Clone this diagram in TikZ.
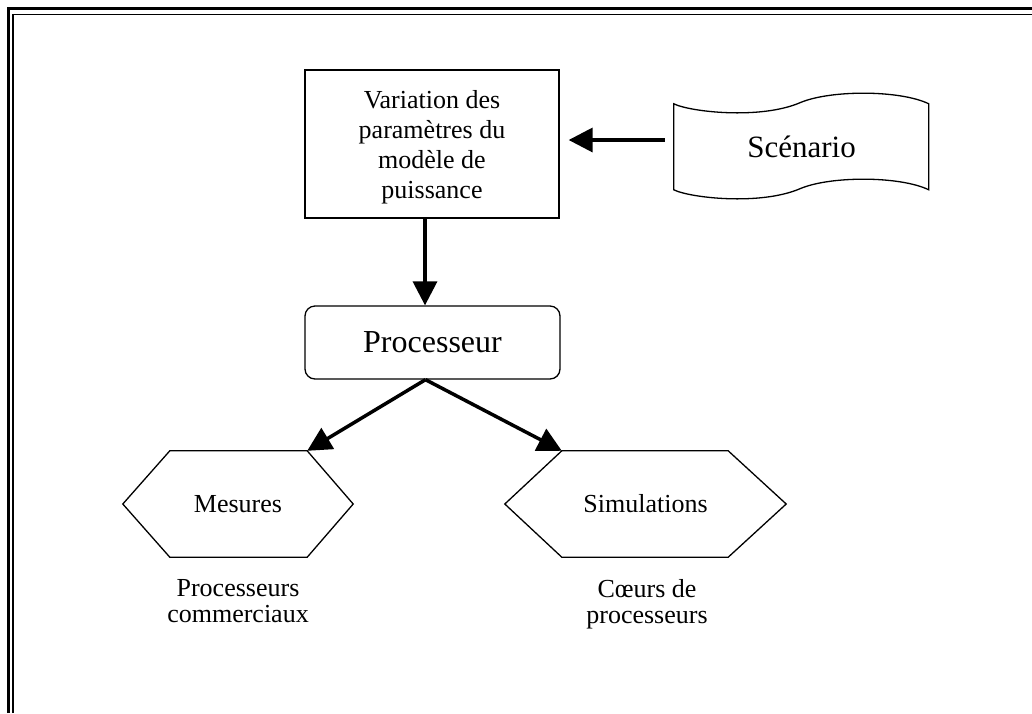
\documentclass[tikz,border=0pt]{standalone}
\usepackage{fontspec}
\setmainfont{Liberation Serif}
\usetikzlibrary{arrows.meta,positioning}
\tikzset{
  box/.style={draw,line width=1.3pt,inner sep=0pt,align=center,font=\fontsize{26}{30}\selectfont},
  hexa/.style={inner sep=0pt,minimum height=106pt,font=\fontsize{26}{30}\selectfont},
  note/.style={inner sep=0pt,align=center,font=\fontsize{26}{26}\selectfont},
  flow/.style={line width=3.5pt,-{Triangle[length=24pt,width=24pt]}},
}
\begin{document}
\begin{tikzpicture}[x=1pt,y=-1pt]
\useasboundingbox (0,0) rectangle (1032,713);

% page frame
\draw[line width=3.2pt] (8.5,713) -- (8.5,8.7) -- (1032,8.7);
\draw[line width=1.6pt] (12.8,713) -- (12.8,14.3) -- (1032,14.3);

\node[box,minimum width=254pt,minimum height=148pt] (var) at (432,144)
  {\rule{0pt}{24pt}Variation des\\param\`etres du\\mod\`ele de\\puissance};
\node[box,rounded corners=10pt,minimum width=255pt,minimum height=73pt,
  font=\fontsize{32}{36}\selectfont] (proc) at (432.5,342.5) {Processeur};

% scenario (document shape)
\node[inner sep=0pt,minimum width=255pt,minimum height=86pt,
  font=\fontsize{31}{36}\selectfont] (scen) at (801.5,147) {Sc\'enario};
\draw[line width=1.3pt] (scen.north west)
  .. controls +(16,8) and +(-40,17) .. ++(126,-1)
  .. controls +(30,-13) and +(-29,-14) .. ++(129,1)
  -- ++(0,86)
  .. controls +(-29,-14) and +(30,-13) .. ++(-129,-1)
  .. controls +(-40,17) and +(16,8) .. ++(-126,1) -- cycle;

% hexagons
\node[hexa,minimum width=230pt] (mes) at (238,504) {Mesures};
\draw[line width=1.3pt] (mes.west) -- ([xshift=47pt]mes.north west)
  -- ([xshift=-46pt]mes.north east) -- (mes.east)
  -- ([xshift=-46pt]mes.south east) -- ([xshift=47pt]mes.south west) -- cycle;
\node[hexa,minimum width=281pt] (sim) at (645.5,504) {Simulations};
\draw[line width=1.3pt] (sim.west) -- ([xshift=57pt]sim.north west)
  -- ([xshift=-58pt]sim.north east) -- (sim.east)
  -- ([xshift=-58pt]sim.south east) -- ([xshift=57pt]sim.south west) -- cycle;

\node[note,below=22pt of mes] (mesl) {Processeurs\\commerciaux};
\node[note,below=22pt of sim,xshift=1.5pt] (siml) {C\oe urs de\\processeurs};

% arrows
\coordinate (s) at ([xshift=-9pt,yshift=7pt]scen.west);
\draw[flow,shorten >=9pt] (s) -- (s -| var.east);
\draw[flow] ([xshift=-7pt]var.south) -- ([xshift=-7pt]var.south |- proc.north);
\draw[flow] ([xshift=-7pt]proc.south) -- ([xshift=-46pt]mes.north east);
\draw[flow] ([xshift=-7pt]proc.south) -- ([xshift=57pt]sim.north west);
\end{tikzpicture}
\end{document}
